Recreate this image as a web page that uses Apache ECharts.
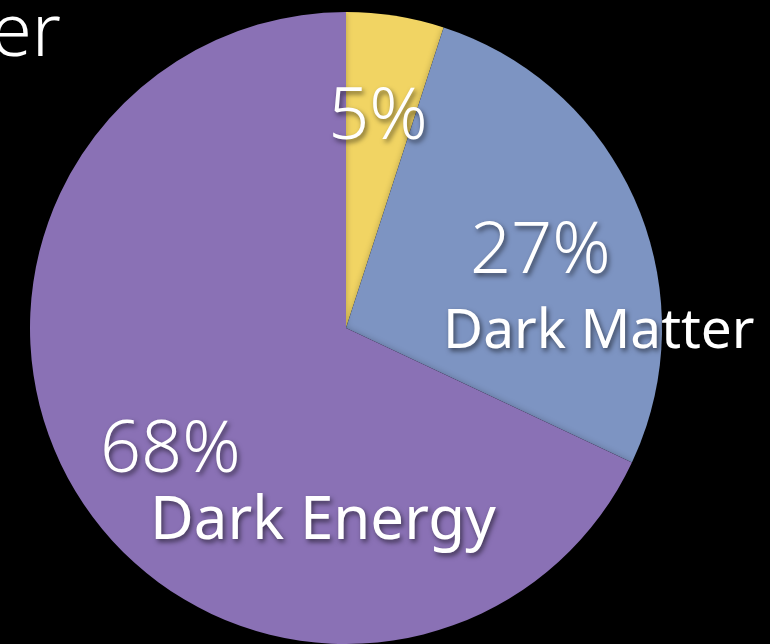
<!DOCTYPE html>
<html>
<head>
<meta charset="utf-8">
<script src="https://cdn.jsdelivr.net/npm/echarts@6/dist/echarts.min.js"></script>
<style>
  html, body { margin: 0; padding: 0; background: #000; }
  #chart { width: 770px; height: 644px; }
</style>
</head>
<body>
<div id="chart"></div>
<script>
// Composition of the universe
const categories = ['Ordinary Matter', 'Dark Matter', 'Dark Energy'];
const shares = [5, 27, 68];
const percentLabels = ['5%', '27%', '68%'];
const nameLabels = ['', 'Dark Matter', 'Dark Energy'];
const sliceColors = ['#f1d463', '#7d94c2', '#8a71b5'];

const FONT = '"Noto Sans", "DejaVu Sans", sans-serif';
const shadow = {
  textShadowColor: 'rgba(0,0,0,0.55)',
  textShadowBlur: 5,
  textShadowOffsetX: 2,
  textShadowOffsetY: 3
};

// per-slice label placement and type sizes
const labelPlace = [
  { x: 378, y: 118, align: 'center', pctIndent: 0, nameIndent: 0, gap: 0, nameSize: 55 },
  { x: 443, y: 283, align: 'left', pctIndent: 27, nameIndent: 0, gap: 98, nameSize: 55 },
  { x: 100, y: 482, align: 'left', pctIndent: 0, nameIndent: 50, gap: 80, nameSize: 60 }
];

const data = categories.map((name, i) => {
  const p = labelPlace[i];
  const text = nameLabels[i]
    ? '{pct|' + percentLabels[i] + '}\n{name|' + nameLabels[i] + '}'
    : '{pct|' + percentLabels[i] + '}';
  return {
    name: name,
    value: shares[i],
    itemStyle: { color: sliceColors[i] },
    label: {
      formatter: text,
      rich: {
        pct: Object.assign({
          fontFamily: FONT, fontSize: 72, fontWeight: 300, color: '#fff',
          lineHeight: p.gap || 74, padding: [0, 0, 0, p.pctIndent]
        }, shadow),
        name: Object.assign({
          fontFamily: FONT, fontSize: p.nameSize, fontWeight: 400, color: '#fff',
          lineHeight: 62, padding: [0, 0, 0, p.nameIndent]
        }, shadow)
      }
    }
  };
});

const chart = echarts.init(document.getElementById('chart'), null, { renderer: 'canvas' });
chart.setOption({
  backgroundColor: '#000',
  animation: false,
  graphic: [{
    type: 'text',
    right: 709,
    top: -2,
    style: {
      text: 'Matter',
      fontFamily: FONT, fontSize: 74, fontWeight: 300, fill: '#fff'
    }
  }],
  series: [{
    type: 'pie',
    center: [346, 328],
    radius: 316,
    startAngle: 90,
    clockwise: true,
    data: data,
    itemStyle: {
      shadowColor: 'rgba(0,0,0,0.25)',
      shadowBlur: 6
    },
    emphasis: { disabled: true },
    label: { show: true, position: 'inside' },
    labelLine: { show: false },
    labelLayout: function (params) {
      const p = labelPlace[params.dataIndex];
      return { x: p.x, y: p.y, align: p.align, verticalAlign: 'middle' };
    }
  }]
});
</script>
</body>
</html>
